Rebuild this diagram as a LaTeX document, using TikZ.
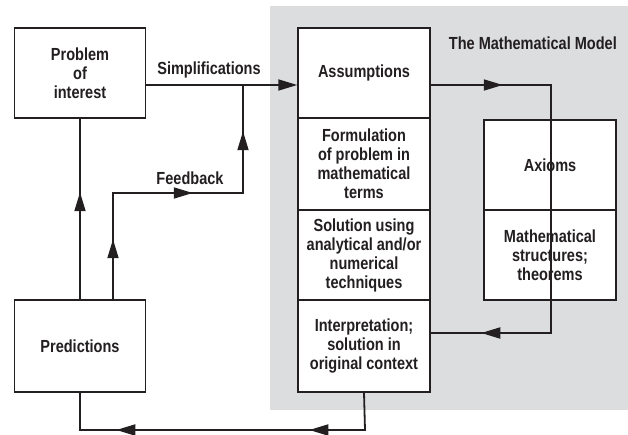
\documentclass[tikz,border=0pt]{standalone}
\usepackage{fontspec}
\setmainfont{Liberation Sans}[FakeStretch=0.83]
\usetikzlibrary{arrows.meta,decorations.markings}
\definecolor{ink}{RGB}{35,31,32}
\definecolor{modelgray}{RGB}{220,221,223}
\tikzset{
  txt/.style={font=\bfseries\fontsize{17.5}{19}\selectfont, align=center, inner sep=0pt, text=ink},
  box/.style={txt, draw=ink, line width=1.5pt, fill=white},
  conn/.style={line width=1.8pt, draw=ink},
  >={Triangle[length=19pt,width=11pt]}
}
\begin{document}
\begin{tikzpicture}[x=1pt,y=-1pt]
\useasboundingbox (0,0) rectangle (628,435);
\fill[modelgray] (270,6) rectangle (628,410);
% left boxes
\node[box, minimum width=131pt, minimum height=90pt] (prob) at (80,73) {Problem\\of\\interest};
\node[box, minimum width=131pt, minimum height=92pt] (pred) at (80,346) {Predictions};
% model column
\node[box, minimum width=132pt, minimum height=90pt] (assump) at (364,73) {Assumptions};
\node[box, minimum width=132pt, minimum height=92pt] (form) at (364,164) {Formulation\\of problem in\\mathematical\\terms};
\node[box, minimum width=132pt, minimum height=90pt] (sol) at (364,255) {Solution using\\analytical and/or\\numerical\\techniques};
\node[box, minimum width=132pt, minimum height=92pt] (interp) at (364,346) {Interpretation;\\solution in\\original context};
\node[box, minimum width=132pt, minimum height=90pt] (axioms) at (550,165) {Axioms};
\node[box, minimum width=132pt, minimum height=90pt] (mstruct) at (550,255) {Mathematical\\structures;\\theorems};
% labels
\node[txt] (simp) at (209,70) {Simplifications};
\node[txt] (fbl) at (190,178) {Feedback};
\node[txt, anchor=east] (title) at (617,43) {The Mathematical Model};
% helper coordinates
\coordinate (fb1) at (113,193);
\coordinate (fb2) at (243,193);
\coordinate (fbj) at (243,85);
\coordinate (rt1) at (551,85);
\coordinate (rt2) at (551,333);
\coordinate (bt1) at (365,430);
\coordinate (bt2) at (80,430);
% connectors
\draw[conn, ->] ([yshift=-12pt]prob.east) -- ([yshift=-12pt]assump.west);
\draw[conn, postaction={decorate, decoration={markings,
    mark=at position 107pt with {\arrow{>}}}}]
  (pred.north) -- (prob.south);
\draw[conn, postaction={decorate, decoration={markings,
    mark=at position 60pt with {\arrow{>}},
    mark=at position 186pt with {\arrow{>}},
    mark=at position 298pt with {\arrow{>}}}}]
  (pred.north -| fb1) -- (fb1) -- (fb2) -- (fbj);
\draw[conn, postaction={decorate, decoration={markings,
    mark=at position 72pt with {\arrow{>}},
    mark=at position 438pt with {\arrow{>}}}}]
  ([yshift=-12pt]assump.east) -- (rt1) -- (rt2) -- (interp.east |- rt2);
\draw[conn, postaction={decorate, decoration={markings,
    mark=at position 93pt with {\arrow{>}},
    mark=at position 286pt with {\arrow{>}}}}]
  (interp.south) -- (bt1) -- (bt2) -- (pred.south);
\end{tikzpicture}
\end{document}
